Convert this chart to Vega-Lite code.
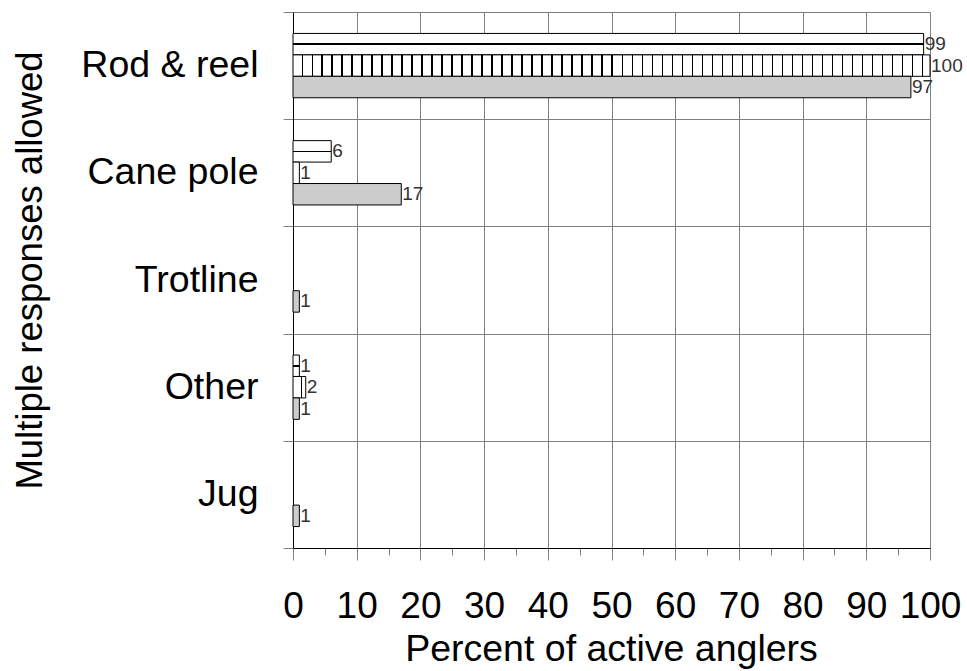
{
  "$schema": "https://vega.github.io/schema/vega-lite/v6.json",
  "width": 637,
  "height": 536,
  "autosize": {"type": "none"},
  "padding": {"left": 293, "top": 12, "right": 37, "bottom": 123},
  "background": "white",
  "config": {
    "view": {"stroke": null},
    "font": "Liberation Sans"
  },
  "data": {
    "values": [
      {"method": "Rod & reel", "series": "a", "pct": 99},
      {"method": "Rod & reel", "series": "b", "pct": 100},
      {"method": "Rod & reel", "series": "c", "pct": 97},
      {"method": "Cane pole", "series": "a", "pct": 6},
      {"method": "Cane pole", "series": "b", "pct": 1},
      {"method": "Cane pole", "series": "c", "pct": 17},
      {"method": "Trotline", "series": "c", "pct": 1},
      {"method": "Other", "series": "a", "pct": 1},
      {"method": "Other", "series": "b", "pct": 2},
      {"method": "Other", "series": "c", "pct": 1},
      {"method": "Jug", "series": "c", "pct": 1}
    ]
  },
  "encoding": {
    "y": {
      "field": "method",
      "type": "nominal",
      "sort": ["Rod & reel", "Cane pole", "Trotline", "Other", "Jug"],
      "scale": {"paddingInner": 0, "paddingOuter": 0},
      "axis": {
        "title": "Multiple responses allowed",
        "titleFont": "Liberation Sans",
        "titleFontSize": 36.5,
        "titleFontWeight": "normal",
        "titleColor": "black",
        "titleAngle": -90,
        "titleX": -263,
        "titleY": 258,
        "titleAlign": "center",
        "titleBaseline": "middle",
        "labelFont": "Liberation Sans",
        "labelFontSize": 37.5,
        "labelColor": "black",
        "labelPadding": 25,
        "labelLimit": 400,
        "tickBand": "extent",
        "tickSize": 10,
        "tickColor": "#808080",
        "domainColor": "black",
        "grid": true,
        "gridColor": "#808080",
        "gridWidth": 1
      }
    },
    "yOffset": {
      "field": "series",
      "type": "nominal",
      "scale": {"domain": ["a", "b", "c"], "paddingInner": 0, "paddingOuter": 1.22}
    },
    "x": {
      "field": "pct",
      "type": "quantitative",
      "scale": {"domain": [0, 100], "nice": false},
      "axis": {
        "title": "Percent of active anglers",
        "titleFont": "Liberation Sans",
        "titleFontSize": 37.5,
        "titleFontWeight": "normal",
        "titleColor": "black",
        "titleX": 318,
        "titleY": 112,
        "titleAlign": "center",
        "titleBaseline": "alphabetic",
        "values": [0, 5, 10, 15, 20, 25, 30, 35, 40, 45, 50, 55, 60, 65, 70, 75, 80, 85, 90, 95, 100],
        "labelExpr": "datum.value % 10 === 0 ? datum.label : ''",
        "labelFont": "Liberation Sans",
        "labelFontSize": 37,
        "labelColor": "black",
        "labelBaseline": "alphabetic",
        "labelPadding": 57,
        "labelFlush": false,
        "labelOverlap": false,
        "tickColor": "#808080",
        "tickSize": {"condition": {"test": "datum.value % 10 === 0", "value": 12}, "value": 7},
        "domainColor": "black",
        "grid": true,
        "gridColor": "#808080",
        "gridOpacity": {"condition": {"test": "datum.value % 10 === 0", "value": 1}, "value": 0}
      }
    }
  },
  "layer": [
    {
      "transform": [{"filter": "datum.series === 'a'"}],
      "mark": {
        "type": "bar",
        "stroke": "black",
        "strokeWidth": 1,
        "fill": {
          "gradient": "linear", "x1": 0, "y1": 0, "x2": 0, "y2": 1,
          "stops": [
            {"offset": 0, "color": "white"},
            {"offset": 0.46, "color": "white"},
            {"offset": 0.46, "color": "black"},
            {"offset": 0.54, "color": "black"},
            {"offset": 0.54, "color": "white"},
            {"offset": 1, "color": "white"}
          ]
        }
      }
    },
    {
      "transform": [{"filter": "datum.series === 'b'"}],
      "mark": {"type": "bar", "stroke": "black", "strokeWidth": 1},
      "encoding": {
        "fill": {
          "condition": [
            {
              "test": "datum.pct >= 50",
              "value": {
                "gradient": "linear", "x1": 0, "y1": 0, "x2": 1, "y2": 0,
                "stops": [
                  {"offset": 0, "color": "white"},
                  {"offset": 0.0134, "color": "white"}, {"offset": 0.0134, "color": "black"}, {"offset": 0.0155, "color": "black"}, {"offset": 0.0155, "color": "white"},
                  {"offset": 0.0291, "color": "white"}, {"offset": 0.0291, "color": "black"}, {"offset": 0.0312, "color": "black"}, {"offset": 0.0312, "color": "white"},
                  {"offset": 0.0447, "color": "white"}, {"offset": 0.0447, "color": "black"}, {"offset": 0.0468, "color": "black"}, {"offset": 0.0468, "color": "white"},
                  {"offset": 0.0604, "color": "white"}, {"offset": 0.0604, "color": "black"}, {"offset": 0.0625, "color": "black"}, {"offset": 0.0625, "color": "white"},
                  {"offset": 0.0761, "color": "white"}, {"offset": 0.0761, "color": "black"}, {"offset": 0.0782, "color": "black"}, {"offset": 0.0782, "color": "white"},
                  {"offset": 0.0918, "color": "white"}, {"offset": 0.0918, "color": "black"}, {"offset": 0.0939, "color": "black"}, {"offset": 0.0939, "color": "white"},
                  {"offset": 0.1075, "color": "white"}, {"offset": 0.1075, "color": "black"}, {"offset": 0.1096, "color": "black"}, {"offset": 0.1096, "color": "white"},
                  {"offset": 0.1232, "color": "white"}, {"offset": 0.1232, "color": "black"}, {"offset": 0.1253, "color": "black"}, {"offset": 0.1253, "color": "white"},
                  {"offset": 0.1389, "color": "white"}, {"offset": 0.1389, "color": "black"}, {"offset": 0.1410, "color": "black"}, {"offset": 0.1410, "color": "white"},
                  {"offset": 0.1546, "color": "white"}, {"offset": 0.1546, "color": "black"}, {"offset": 0.1567, "color": "black"}, {"offset": 0.1567, "color": "white"},
                  {"offset": 0.1703, "color": "white"}, {"offset": 0.1703, "color": "black"}, {"offset": 0.1724, "color": "black"}, {"offset": 0.1724, "color": "white"},
                  {"offset": 0.1860, "color": "white"}, {"offset": 0.1860, "color": "black"}, {"offset": 0.1881, "color": "black"}, {"offset": 0.1881, "color": "white"},
                  {"offset": 0.2017, "color": "white"}, {"offset": 0.2017, "color": "black"}, {"offset": 0.2038, "color": "black"}, {"offset": 0.2038, "color": "white"},
                  {"offset": 0.2174, "color": "white"}, {"offset": 0.2174, "color": "black"}, {"offset": 0.2195, "color": "black"}, {"offset": 0.2195, "color": "white"},
                  {"offset": 0.2331, "color": "white"}, {"offset": 0.2331, "color": "black"}, {"offset": 0.2352, "color": "black"}, {"offset": 0.2352, "color": "white"},
                  {"offset": 0.2488, "color": "white"}, {"offset": 0.2488, "color": "black"}, {"offset": 0.2509, "color": "black"}, {"offset": 0.2509, "color": "white"},
                  {"offset": 0.2645, "color": "white"}, {"offset": 0.2645, "color": "black"}, {"offset": 0.2666, "color": "black"}, {"offset": 0.2666, "color": "white"},
                  {"offset": 0.2802, "color": "white"}, {"offset": 0.2802, "color": "black"}, {"offset": 0.2823, "color": "black"}, {"offset": 0.2823, "color": "white"},
                  {"offset": 0.2959, "color": "white"}, {"offset": 0.2959, "color": "black"}, {"offset": 0.2980, "color": "black"}, {"offset": 0.2980, "color": "white"},
                  {"offset": 0.3116, "color": "white"}, {"offset": 0.3116, "color": "black"}, {"offset": 0.3137, "color": "black"}, {"offset": 0.3137, "color": "white"},
                  {"offset": 0.3273, "color": "white"}, {"offset": 0.3273, "color": "black"}, {"offset": 0.3294, "color": "black"}, {"offset": 0.3294, "color": "white"},
                  {"offset": 0.3430, "color": "white"}, {"offset": 0.3430, "color": "black"}, {"offset": 0.3451, "color": "black"}, {"offset": 0.3451, "color": "white"},
                  {"offset": 0.3587, "color": "white"}, {"offset": 0.3587, "color": "black"}, {"offset": 0.3608, "color": "black"}, {"offset": 0.3608, "color": "white"},
                  {"offset": 0.3744, "color": "white"}, {"offset": 0.3744, "color": "black"}, {"offset": 0.3765, "color": "black"}, {"offset": 0.3765, "color": "white"},
                  {"offset": 0.3901, "color": "white"}, {"offset": 0.3901, "color": "black"}, {"offset": 0.3922, "color": "black"}, {"offset": 0.3922, "color": "white"},
                  {"offset": 0.4058, "color": "white"}, {"offset": 0.4058, "color": "black"}, {"offset": 0.4079, "color": "black"}, {"offset": 0.4079, "color": "white"},
                  {"offset": 0.4215, "color": "white"}, {"offset": 0.4215, "color": "black"}, {"offset": 0.4236, "color": "black"}, {"offset": 0.4236, "color": "white"},
                  {"offset": 0.4372, "color": "white"}, {"offset": 0.4372, "color": "black"}, {"offset": 0.4393, "color": "black"}, {"offset": 0.4393, "color": "white"},
                  {"offset": 0.4529, "color": "white"}, {"offset": 0.4529, "color": "black"}, {"offset": 0.4550, "color": "black"}, {"offset": 0.4550, "color": "white"},
                  {"offset": 0.4686, "color": "white"}, {"offset": 0.4686, "color": "black"}, {"offset": 0.4707, "color": "black"}, {"offset": 0.4707, "color": "white"},
                  {"offset": 0.4843, "color": "white"}, {"offset": 0.4843, "color": "black"}, {"offset": 0.4864, "color": "black"}, {"offset": 0.4864, "color": "white"},
                  {"offset": 0.5000, "color": "white"}, {"offset": 0.5000, "color": "black"}, {"offset": 0.5021, "color": "black"}, {"offset": 0.5021, "color": "white"},
                  {"offset": 0.5157, "color": "white"}, {"offset": 0.5157, "color": "black"}, {"offset": 0.5178, "color": "black"}, {"offset": 0.5178, "color": "white"},
                  {"offset": 0.5314, "color": "white"}, {"offset": 0.5314, "color": "black"}, {"offset": 0.5335, "color": "black"}, {"offset": 0.5335, "color": "white"},
                  {"offset": 0.5471, "color": "white"}, {"offset": 0.5471, "color": "black"}, {"offset": 0.5492, "color": "black"}, {"offset": 0.5492, "color": "white"},
                  {"offset": 0.5628, "color": "white"}, {"offset": 0.5628, "color": "black"}, {"offset": 0.5649, "color": "black"}, {"offset": 0.5649, "color": "white"},
                  {"offset": 0.5785, "color": "white"}, {"offset": 0.5785, "color": "black"}, {"offset": 0.5806, "color": "black"}, {"offset": 0.5806, "color": "white"},
                  {"offset": 0.5942, "color": "white"}, {"offset": 0.5942, "color": "black"}, {"offset": 0.5963, "color": "black"}, {"offset": 0.5963, "color": "white"},
                  {"offset": 0.6099, "color": "white"}, {"offset": 0.6099, "color": "black"}, {"offset": 0.6120, "color": "black"}, {"offset": 0.6120, "color": "white"},
                  {"offset": 0.6256, "color": "white"}, {"offset": 0.6256, "color": "black"}, {"offset": 0.6277, "color": "black"}, {"offset": 0.6277, "color": "white"},
                  {"offset": 0.6413, "color": "white"}, {"offset": 0.6413, "color": "black"}, {"offset": 0.6434, "color": "black"}, {"offset": 0.6434, "color": "white"},
                  {"offset": 0.6570, "color": "white"}, {"offset": 0.6570, "color": "black"}, {"offset": 0.6591, "color": "black"}, {"offset": 0.6591, "color": "white"},
                  {"offset": 0.6727, "color": "white"}, {"offset": 0.6727, "color": "black"}, {"offset": 0.6748, "color": "black"}, {"offset": 0.6748, "color": "white"},
                  {"offset": 0.6884, "color": "white"}, {"offset": 0.6884, "color": "black"}, {"offset": 0.6905, "color": "black"}, {"offset": 0.6905, "color": "white"},
                  {"offset": 0.7041, "color": "white"}, {"offset": 0.7041, "color": "black"}, {"offset": 0.7062, "color": "black"}, {"offset": 0.7062, "color": "white"},
                  {"offset": 0.7198, "color": "white"}, {"offset": 0.7198, "color": "black"}, {"offset": 0.7219, "color": "black"}, {"offset": 0.7219, "color": "white"},
                  {"offset": 0.7355, "color": "white"}, {"offset": 0.7355, "color": "black"}, {"offset": 0.7376, "color": "black"}, {"offset": 0.7376, "color": "white"},
                  {"offset": 0.7512, "color": "white"}, {"offset": 0.7512, "color": "black"}, {"offset": 0.7533, "color": "black"}, {"offset": 0.7533, "color": "white"},
                  {"offset": 0.7669, "color": "white"}, {"offset": 0.7669, "color": "black"}, {"offset": 0.7690, "color": "black"}, {"offset": 0.7690, "color": "white"},
                  {"offset": 0.7826, "color": "white"}, {"offset": 0.7826, "color": "black"}, {"offset": 0.7847, "color": "black"}, {"offset": 0.7847, "color": "white"},
                  {"offset": 0.7983, "color": "white"}, {"offset": 0.7983, "color": "black"}, {"offset": 0.8004, "color": "black"}, {"offset": 0.8004, "color": "white"},
                  {"offset": 0.8140, "color": "white"}, {"offset": 0.8140, "color": "black"}, {"offset": 0.8161, "color": "black"}, {"offset": 0.8161, "color": "white"},
                  {"offset": 0.8297, "color": "white"}, {"offset": 0.8297, "color": "black"}, {"offset": 0.8318, "color": "black"}, {"offset": 0.8318, "color": "white"},
                  {"offset": 0.8454, "color": "white"}, {"offset": 0.8454, "color": "black"}, {"offset": 0.8475, "color": "black"}, {"offset": 0.8475, "color": "white"},
                  {"offset": 0.8611, "color": "white"}, {"offset": 0.8611, "color": "black"}, {"offset": 0.8632, "color": "black"}, {"offset": 0.8632, "color": "white"},
                  {"offset": 0.8768, "color": "white"}, {"offset": 0.8768, "color": "black"}, {"offset": 0.8789, "color": "black"}, {"offset": 0.8789, "color": "white"},
                  {"offset": 0.8925, "color": "white"}, {"offset": 0.8925, "color": "black"}, {"offset": 0.8946, "color": "black"}, {"offset": 0.8946, "color": "white"},
                  {"offset": 0.9082, "color": "white"}, {"offset": 0.9082, "color": "black"}, {"offset": 0.9103, "color": "black"}, {"offset": 0.9103, "color": "white"},
                  {"offset": 0.9239, "color": "white"}, {"offset": 0.9239, "color": "black"}, {"offset": 0.9260, "color": "black"}, {"offset": 0.9260, "color": "white"},
                  {"offset": 0.9396, "color": "white"}, {"offset": 0.9396, "color": "black"}, {"offset": 0.9417, "color": "black"}, {"offset": 0.9417, "color": "white"},
                  {"offset": 0.9553, "color": "white"}, {"offset": 0.9553, "color": "black"}, {"offset": 0.9574, "color": "black"}, {"offset": 0.9574, "color": "white"},
                  {"offset": 0.9710, "color": "white"}, {"offset": 0.9710, "color": "black"}, {"offset": 0.9731, "color": "black"}, {"offset": 0.9731, "color": "white"},
                  {"offset": 0.9867, "color": "white"}, {"offset": 0.9867, "color": "black"}, {"offset": 0.9888, "color": "black"}, {"offset": 0.9888, "color": "white"},
                  {"offset": 1, "color": "white"}
                ]
              }
            },
            {
              "test": "datum.pct >= 2",
              "value": {
                "gradient": "linear", "x1": 0, "y1": 0, "x2": 1, "y2": 0,
                "stops": [
                  {"offset": 0, "color": "white"},
                  {"offset": 0.6, "color": "white"},
                  {"offset": 0.6, "color": "black"},
                  {"offset": 0.68, "color": "black"},
                  {"offset": 0.68, "color": "white"},
                  {"offset": 1, "color": "white"}
                ]
              }
            }
          ],
          "value": "white"
        }
      }
    },
    {
      "transform": [{"filter": "datum.series === 'c'"}],
      "mark": {"type": "bar", "stroke": "black", "strokeWidth": 1, "fill": "#cccccc"}
    },
    {
      "mark": {
        "type": "text",
        "align": "left",
        "baseline": "middle",
        "dx": 1,
        "font": "Liberation Sans",
        "fontSize": 19,
        "color": "#333333"
      },
      "encoding": {
        "text": {"field": "pct", "type": "quantitative"}
      }
    }
  ]
}
